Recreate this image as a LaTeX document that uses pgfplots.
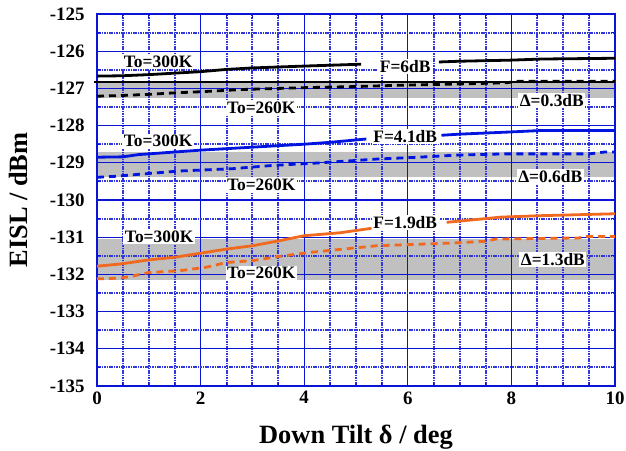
\documentclass[border=0pt]{standalone}
\usepackage{pgfplots}
\pgfplotsset{compat=1.18}
\usepackage{fontspec}
\setmainfont{Liberation Serif}
\definecolor{gridblue}{RGB}{10,20,215}
\definecolor{lineblue}{RGB}{0,20,225}
\definecolor{orng}{RGB}{240,105,30}
\definecolor{band}{RGB}{192,192,192}
\tikzset{lbl/.style={fill=white, inner sep=1.5bp, font=\fontsize{17.5}{19}\selectfont\bfseries}}
\begin{document}
\begin{tikzpicture}
\begin{axis}[
  set layers=standard,
  scale only axis,
  width=518bp, height=372bp,
  xmin=0, xmax=10, ymin=-135, ymax=-125,
  xtick={0,2,...,10}, ytick={-135,-134,...,-125},
  minor x tick num=3, minor y tick num=1,
  grid=both,
  major grid style={gridblue, line width=1.2bp},
  minor grid style={gridblue!85, line width=2bp, dash pattern=on 1.6bp off 0.8bp},
  axis line style={gridblue, line width=1.8bp},
  tick style={gridblue, line width=1bp},
  major tick length=4bp, minor tick length=4bp,
  tick align=inside,
  /pgf/number format/assume math mode=true,
  ticklabel style={font=\fontsize{19}{21}\selectfont\bfseries},
  xticklabel style={yshift=-2bp},
  yticklabel style={xshift=-9bp},
  xlabel={Down Tilt δ / deg},
  ylabel={EISL / dBm},
  label style={font=\fontsize{26.5}{29}\selectfont\bfseries},
  xlabel style={at={(axis description cs:0.5,-0.137)}, anchor=center},
  ylabel style={at={(axis description cs:-0.152,0.5)}, anchor=center},
  clip=false,
  unbounded coords=jump,
]
% gray bands
\addplot[draw=none, fill=band, on layer=axis background] coordinates {(0,-126.83) (10,-126.83) (10,-127.26) (0,-127.26)} -- cycle;
\addplot[draw=none, fill=band, on layer=axis background] coordinates {(0,-128.71) (10,-128.71) (10,-129.39) (0,-129.39)} -- cycle;
\addplot[draw=none, fill=band, on layer=axis background] coordinates {(0,-131.05) (10,-131.05) (10,-132.15) (0,-132.15)} -- cycle;
\addplot[black, line width=1.2bp] coordinates {(-0.06,-126.83) (10,-126.83)};

% F=6dB
\addplot[black, line width=2.8bp] coordinates {
(0,-126.67) (0.5,-126.66) (1,-126.63) (2,-126.55) (2.5,-126.49) (3,-126.45) (4,-126.4) (5.1,-126.35)
(5.8,nan)
(6.6,-126.29) (7,-126.27) (8,-126.24) (8.6,-126.21) (10,-126.19)};
\addplot[black, line width=2.8bp, dash pattern=on 7bp off 5bp] coordinates {
(0,-127.21) (0.5,-127.19) (1,-127.16) (1.5,-127.12) (2,-127.09) (2.8,-127.03) (4,-126.98) (5,-126.95) (6,-126.91) (7,-126.88) (7.9,-126.85) (8.1,-126.81) (10,-126.81)};

% F=4.1dB
\addplot[lineblue, line width=2.8bp] coordinates {
(0,-128.85) (0.5,-128.84) (0.8,-128.78) (1.2,-128.74) (2,-128.66) (3,-128.58) (4,-128.5) (4.5,-128.45) (5.2,-128.36)
(5.9,nan)
(6.65,-128.26) (7,-128.23) (8,-128.17) (8.6,-128.13) (10,-128.13)};
\addplot[lineblue, line width=2.8bp, dash pattern=on 7bp off 5bp] coordinates {
(0,-129.39) (0.4,-129.36) (0.8,-129.31) (1.6,-129.22) (2.6,-129.16) (3.4,-129.07) (4.2,-129.01) (5.4,-128.9) (6.2,-128.85) (7,-128.79) (7.9,-128.76) (9.5,-128.76) (9.8,-128.71) (10,-128.71)};

% F=1.9dB
\addplot[orng, line width=2.8bp] coordinates {
(0,-131.78) (0.45,-131.72) (1,-131.61) (1.5,-131.54) (2,-131.43) (2.5,-131.32) (3,-131.23) (3.5,-131.1) (4,-130.96) (4.7,-130.88) (5.3,-130.76)
(6,nan)
(6.75,-130.6) (7.8,-130.46) (8.6,-130.42) (10,-130.37)};
\addplot[orng, line width=2.8bp, dash pattern=on 7bp off 5bp] coordinates {
(0,-132.12) (0.45,-132.1) (0.7,-132.04) (1,-131.95) (1.6,-131.9) (2.1,-131.81) (2.5,-131.68) (3,-131.63) (3.5,-131.52) (4.1,-131.41) (5.4,-131.23) (6.8,-131.16) (7.5,-131.11) (7.7,-131.05) (9.3,-131.02) (9.45,-130.98) (10,-130.98)};

% labels
\node[lbl] at (axis cs:1.18,-126.28) {To=300K};
\node[lbl] at (axis cs:3.17,-127.52) {To=260K};
\node[lbl] at (axis cs:5.95,-126.42) {F=6dB};
\node[lbl] at (axis cs:8.78,-127.33) {Δ=0.3dB};
\node[lbl] at (axis cs:1.18,-128.42) {To=300K};
\node[lbl] at (axis cs:3.17,-129.6) {To=260K};
\node[lbl] at (axis cs:5.95,-128.29) {F=4.1dB};
\node[lbl] at (axis cs:8.75,-129.36) {Δ=0.6dB};
\node[lbl] at (axis cs:1.2,-130.98) {To=300K};
\node[lbl] at (axis cs:3.17,-131.97) {To=260K};
\node[lbl] at (axis cs:5.95,-130.6) {F=1.9dB};
\node[lbl] at (axis cs:8.8,-131.6) {Δ=1.3dB};
\end{axis}
\pgfresetboundingbox
\path ([xshift=-97bp,yshift=-65bp]current axis.south west) rectangle ([xshift=11bp,yshift=14bp]current axis.north east);
\end{tikzpicture}
\end{document}
